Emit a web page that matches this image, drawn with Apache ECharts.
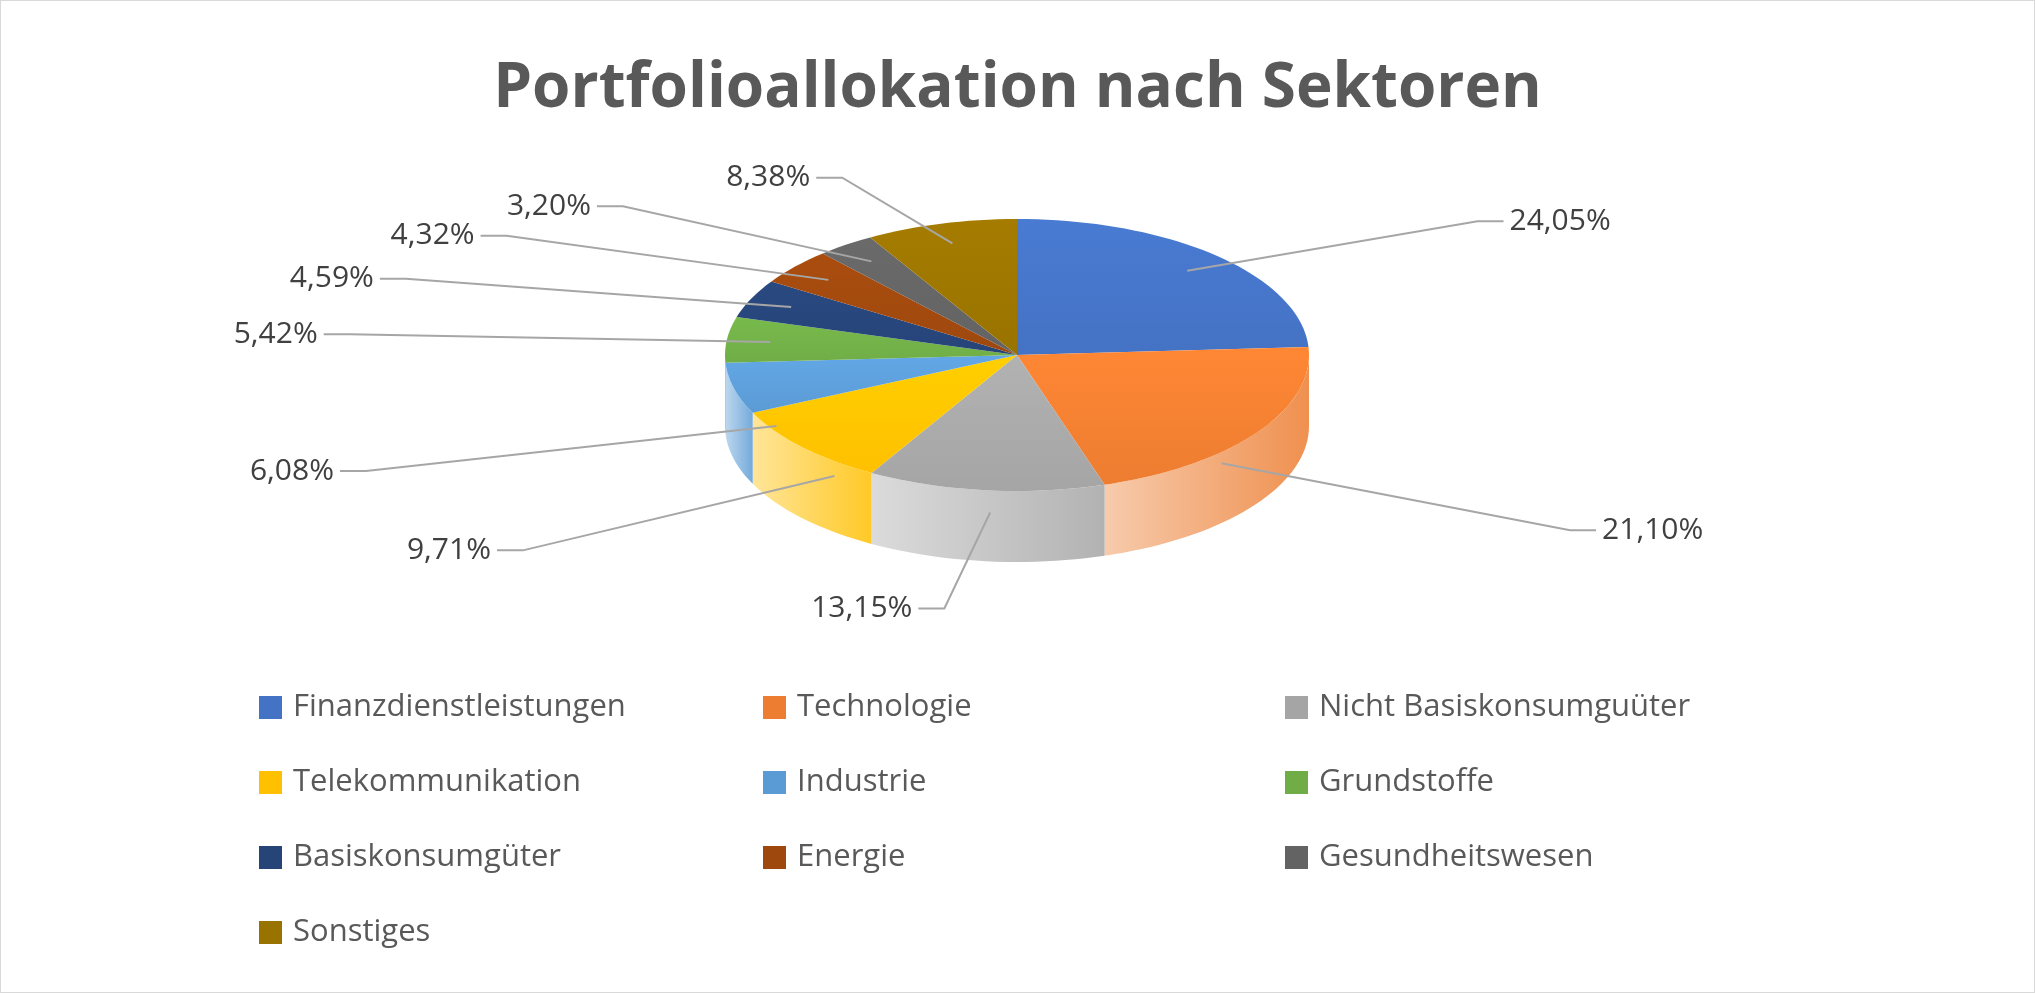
<!DOCTYPE html>
<html>
<head>
<meta charset="utf-8">
<script src="https://cdn.jsdelivr.net/npm/echarts@6/dist/echarts.min.js"></script>
<style>
html,body{margin:0;padding:0;background:#fff;}
#main{position:absolute;left:0;top:0;width:2033px;height:991px;border:1px solid #d9d9d9;}
</style>
</head>
<body>
<div id="main"></div>
<script>
var sectors = ['Finanzdienstleistungen','Technologie','Nicht Basiskonsumguüter','Telekommunikation','Industrie','Grundstoffe','Basiskonsumgüter','Energie','Gesundheitswesen','Sonstiges'];
var shares = [24.05, 21.10, 13.15, 9.71, 6.08, 5.42, 4.59, 4.32, 3.20, 8.38];
var colors = ['#4472C4','#ED7D31','#A5A5A5','#FFC000','#5B9BD5','#70AD47','#264478','#9E480E','#636363','#997300'];

var chart = echarts.init(document.getElementById('main'));

var total = shares.reduce(function (a, b) { return a + b; }, 0);
var starts = [];
var acc = 0;
shares.forEach(function (v) { starts.push(acc); acc += v; });

function fmt(v) { return v.toFixed(2).replace('.', ',') + '%'; }

// pie geometry (ellipse, seen from above)
var cx = 1016, cy = 354, rx = 292, ry = 136, depth = 71;
function pt(deg, dy) {
    var t = deg * Math.PI / 180;
    return [cx + rx * Math.sin(t), cy - ry * Math.cos(t) + (dy || 0)];
}
function arc(a0, a1, dy) {
    var pts = [];
    var n = Math.max(2, Math.ceil((a1 - a0) / 2));
    for (var i = 0; i <= n; i++) pts.push(pt(a0 + (a1 - a0) * i / n, dy));
    return pts;
}

function renderSlice(params, api) {
    var i = params.seriesIndex;
    var a0 = starts[i] / total * 360, a1 = (starts[i] + shares[i]) / total * 360;
    var col = colors[i];
    var children = [];
    // visible side wall (front half)
    var s0 = Math.max(a0, 90), s1 = Math.min(a1, 270);
    if (s1 > s0) {
        var top = arc(s0, s1, 0), bot = arc(s0, s1, depth).reverse();
        children.push({
            type: 'polygon', shape: { points: top.concat(bot) },
            style: { fill: new echarts.graphic.LinearGradient(1, 0, 0, 0, [
                { offset: 0, color: echarts.color.lift(col, 0.15) },
                { offset: 1, color: echarts.color.lift(col, 0.6) }
            ]) }
        });
    }
    children.push({
        type: 'polygon', shape: { points: [[cx, cy]].concat(arc(a0, a1, 0)) },
        style: { fill: new echarts.graphic.LinearGradient(0, 0, 0, 1, [
            { offset: 0, color: echarts.color.lift(col, -0.08) },
            { offset: 1, color: col }
        ]) }
    });
    // label and leader line
    var mid = (a0 + a1) / 2, t = mid * Math.PI / 180;
    var sx = Math.sin(t), cz = Math.cos(t);
    var front = cz < 0;
    var anchor = pt(mid, 0);
    anchor = [cx + (anchor[0] - cx) * 0.85, cy + (anchor[1] - cy) * 0.85 + (front ? depth * 0.6 : 0)];
    var lx = cx + rx * 2.3 * sx, ly = cy - ry * 1.35 * cz + (front ? depth : 0);
    var right = sx >= 0;
    var tail = right ? lx + 26 : lx - 26;
    children.push({
        type: 'polyline', shape: { points: [anchor, [lx, ly], [tail, ly]] },
        style: { stroke: '#a6a6a6', lineWidth: 2, fill: null }
    });
    children.push({
        type: 'text',
        style: {
            x: right ? tail + 6 : tail - 6, y: ly, text: fmt(shares[i]),
            fill: '#404040', fontSize: 30, fontFamily: 'Open Sans',
            align: right ? 'left' : 'right', verticalAlign: 'middle'
        }
    });
    return { type: 'group', children: children };
}

var series = sectors.map(function (name, i) {
    return {
        type: 'custom', name: name, coordinateSystem: 'none',
        itemStyle: { color: colors[i] },
        data: [[shares[i]]], renderItem: renderSlice, silent: true
    };
});

function legendCol(left, names) {
    return {
        orient: 'vertical', left: left, top: 686, itemGap: 44,
        itemWidth: 23, itemHeight: 23, icon: 'rect',
        textStyle: { fontSize: 31, color: '#595959', fontFamily: 'Open Sans', padding: [0, 0, 0, 6] },
        data: names
    };
}

var option = {
    color: colors,
    animation: false,
    title: {
        text: 'Portfolioallokation nach Sektoren', left: 'center', top: 52,
        textStyle: { fontSize: 62, fontWeight: 'bold', color: '#595959', fontFamily: 'Open Sans' }
    },
    legend: [
        legendCol(253, [sectors[0], sectors[3], sectors[6], sectors[9]]),
        legendCol(757, [sectors[1], sectors[4], sectors[7]]),
        legendCol(1279, [sectors[2], sectors[5], sectors[8]])
    ],
    series: series
};
chart.setOption(option);
</script>
</body>
</html>
